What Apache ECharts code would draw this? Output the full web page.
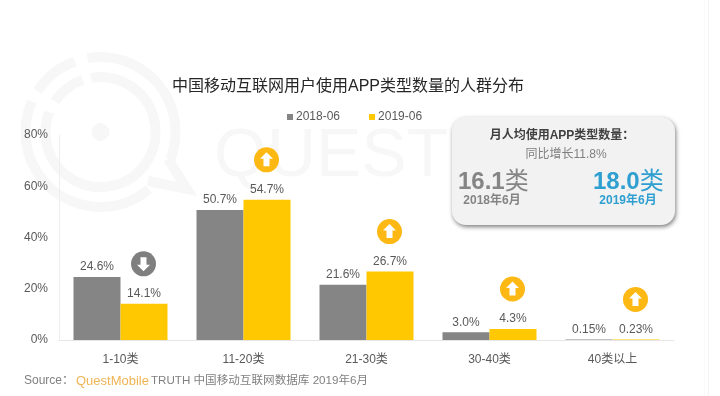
<!DOCTYPE html>
<html><head><meta charset="utf-8">
<style>html,body{margin:0;padding:0;background:#fff}#c{width:720px;height:396px}</style>
<script src="https://cdn.jsdelivr.net/npm/echarts@6/dist/echarts.min.js"></script>
</head><body><div id="c"></div>
<script>
const categories = ['1-10类','11-20类','21-30类','30-40类','40类以上'];
const series2018 = [24.6,50.7,21.6,3.0,0.15];
const series2019 = [14.1,54.7,26.7,4.3,0.23];
const labels2018 = ['24.6%','50.7%','21.6%','3.0%','0.15%'];
const labels2019 = ['14.1%','54.7%','26.7%','4.3%','0.23%'];
const yTicks = [0,20,40,60,80];
const FONT = '"Liberation Sans","Noto Sans CJK SC",sans-serif';
const GREY='#858585', YEL='#FFC800', TXT='#595959', WM='#f7f7f7';
const rad=d=>d*Math.PI/180;
const wmArc=(r,a,b)=>({type:'arc',shape:{cx:100.5,cy:132,r,startAngle:rad(a),endAngle:rad(b),clockwise:true},
  style:{stroke:WM,lineWidth:10,fill:null}});

const chart = echarts.init(document.getElementById('c'),null,{renderer:'canvas'});
chart.setOption({
  animation:false,
  textStyle:{fontFamily:FONT},
  title:{text:'中国移动互联网用户使用APP类型数量的人群分布',left:343,top:74,textAlign:'center',
    textStyle:{fontSize:16,fontWeight:'normal',color:'#262626',fontFamily:FONT}},
  legend:{left:282,top:106,itemWidth:6,itemHeight:6,itemGap:29,icon:'rect',
    textStyle:{fontSize:12,color:TXT,padding:[0,0,0,-2],fontFamily:FONT},
    data:['2018-06','2019-06']},
  grid:{left:59,right:46,top:135,bottom:56},
  xAxis:{type:'category',data:categories,
    axisLine:{lineStyle:{color:'#e6e6e6'}},axisTick:{show:false},
    axisLabel:{fontSize:12,color:TXT,margin:14,fontFamily:FONT}},
  yAxis:{type:'value',min:yTicks[0],max:yTicks[4],interval:20,
    axisLine:{show:true,lineStyle:{color:'#eeeeee'}},axisTick:{show:false},splitLine:{show:false},
    axisLabel:{fontSize:12,color:TXT,margin:11,formatter:'{value}%',fontFamily:FONT}},
  series:[
    {name:'2018-06',type:'bar',data:series2018,barWidth:47,barGap:'0%',z:3,
      itemStyle:{color:GREY},
      label:{show:true,position:'top',distance:4,fontSize:12,color:TXT,fontFamily:FONT,
        formatter:p=>labels2018[p.dataIndex]}},
    {name:'2019-06',type:'bar',data:series2019,barWidth:47,z:3,
      itemStyle:{color:YEL},
      label:{show:true,position:'top',distance:4,fontSize:12,color:TXT,fontFamily:FONT,
        formatter:p=>labels2019[p.dataIndex]}},
    {name:'change',type:'custom',z:4,silent:true,
      data:series2019.map((v,i)=>[i,v,series2018[i]]),
      encode:{x:0,y:1},
      renderItem:(params,api)=>{
        const p=api.coord([api.value(0),api.value(1)]);
        const up=api.value(1)>=api.value(2);
        const cx=p[0]+23,cy=p[1]-40,s=up?1:-1;
        const pts=[[0,-7.5],[6.5,-1],[3,-1],[3,6.5],[-3,6.5],[-3,-1],[-6.5,-1]]
          .map(q=>[cx+q[0],cy+s*q[1]]);
        return {type:'group',children:[
          {type:'circle',shape:{cx,cy,r:12.5},style:{fill:up?'#FDB813':'#7f7f7f'}},
          {type:'polygon',shape:{points:pts},style:{fill:'#fff'}}
        ]};
      }}
  ],
  graphic:[
    {type:'group',silent:true,z:-10,children:[
      wmArc(75,-100,21), wmArc(75,50,204), wmArc(75,-147,-110),
      wmArc(55,-100,201), wmArc(55,-146,-109),
      {type:'circle',shape:{cx:100.5,cy:132,r:9},style:{fill:WM}},
      {type:'polyline',shape:{points:[[168,159],[187,189],[148,181]]},style:{stroke:WM,lineWidth:10,fill:null,lineJoin:'miter'}},
      {type:'text',style:{x:214,y:123,text:'QUESTM',fontSize:68,fontFamily:'"Liberation Sans"',fill:'#f7f7f7'}},
      {type:'line',shape:{x1:708.5,y1:0,x2:708.5,y2:396},style:{stroke:'#f4f4f4',lineWidth:1}},
      {type:'line',shape:{x1:704.5,y1:0,x2:704.5,y2:396},style:{stroke:'#fafafa',lineWidth:1}}
    ]},
    {type:'rect',z:5,silent:true,shape:{x:452,y:117,width:223,height:108,r:14},
      style:{fill:'#f2f2f2',shadowBlur:4,shadowOffsetX:1,shadowOffsetY:2,shadowColor:'rgba(0,0,0,0.5)'}},
    {type:'text',z:6,silent:true,style:{x:562,y:136,text:'月人均使用APP类型数量：',align:'center',verticalAlign:'middle',fontSize:12,fontFamily:FONT,fontWeight:'bold',fill:'#404040'}},
    {type:'text',z:6,silent:true,style:{x:566,y:155,text:'同比增长11.8%',align:'center',verticalAlign:'middle',fontSize:12,fontFamily:FONT,fill:'#7f7f7f'}},
    {type:'text',z:6,silent:true,style:{x:458,y:182,text:'{a|16.1}{b|类}',verticalAlign:'middle',fontFamily:FONT,
      rich:{a:{fontSize:24,fontWeight:'bold',fill:'#858585',fontFamily:FONT},b:{fontSize:24,fill:'#858585',fontFamily:FONT}}}},
    {type:'text',z:6,silent:true,style:{x:492,y:201,text:'2018年6月',align:'center',verticalAlign:'middle',fontSize:12,fontWeight:'bold',fontFamily:FONT,fill:'#858585'}},
    {type:'text',z:6,silent:true,style:{x:593,y:182,text:'{a|18.0}{b|类}',verticalAlign:'middle',fontFamily:FONT,
      rich:{a:{fontSize:24,fontWeight:'bold',fill:'#2E9FD0',fontFamily:FONT},b:{fontSize:24,fill:'#2E9FD0',fontFamily:FONT}}}},
    {type:'text',z:6,silent:true,style:{x:628,y:201,text:'2019年6月',align:'center',verticalAlign:'middle',fontSize:12,fontWeight:'bold',fontFamily:FONT,fill:'#2E9FD0'}},
    {type:'text',silent:true,style:{x:24,y:381,verticalAlign:'middle',fontFamily:FONT,
      text:'{s|Source：}{q|QuestMobile}{t|TRUTH 中国移动互联网数据库 2019年6月}',
      rich:{s:{fontSize:12,fill:'#808080',width:52,fontFamily:FONT},q:{fontSize:13,fill:'#F0B455',padding:[0,2,0,0],fontFamily:FONT},t:{fontSize:11.6,fill:'#808080',fontFamily:FONT}}}}
  ]
});
</script></body></html>
